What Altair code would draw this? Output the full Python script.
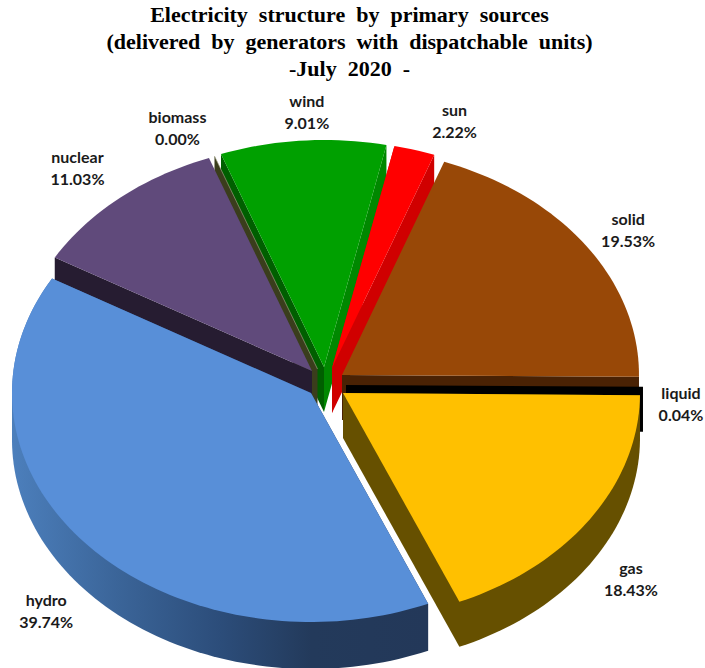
import math

import altair as alt
import pandas as pd

# Shares of electricity delivered, in percent, clockwise from the "solid" slice.
sources = ["solid", "liquid", "gas", "hydro", "nuclear", "biomass", "wind", "sun"]
shares = [19.53, 0.04, 18.43, 39.74, 11.03, 0.00, 9.01, 2.22]

title_lines = [
    "Electricity\u2002structure\u2002by\u2002primary\u2002sources",
    "(delivered\u2002by\u2002generators\u2002with\u2002dispatchable\u2002units)",
    "-July\u20022020\u2002-",
]

# Exploded pie layout: each slice has its own apex on the 705x668 canvas.
RX, RY, DEPTH, START = 297, 227, 45, 20.13
apex = {
    "solid": (342, 375), "liquid": (346, 385), "gas": (343, 393), "hydro": (311, 393),
    "nuclear": (312, 371), "biomass": (317.5, 369), "wind": (324, 367), "sun": (332, 368),
}
# The front slice sits a little closer to the viewer and so draws a little larger.
grow = {"hydro": 2}
top_color = {
    "solid": "#984807", "liquid": "#000000", "gas": "#ffc000", "hydro": "#588fd8",
    "nuclear": "#604a7b", "biomass": "#9c9c80", "wind": "#00a000", "sun": "#ff0000",
}
label_offset = {
    "solid": (42, -15), "liquid": (38, 18), "gas": (41, 61), "hydro": (-41, 67),
    "nuclear": (-43, -28), "biomass": (-37, -27), "wind": (4, -28), "sun": (40, -28),
}
LABEL_LINE = 22

# Angular extent of every slice, from the shares.
spans = {}
angle = START
for name, share in zip(sources, shares):
    spans[name] = (angle, angle + share * 3.6)
    angle += share * 3.6


def rim(name, theta):
    cx, cy = apex[name]
    rad = math.radians(theta)
    extra = grow.get(name, 0)
    return (cx + (RX + extra) * math.sin(rad), cy - (RY + extra) * math.cos(rad))


def sector(name):
    a, b = spans[name]
    steps = max(1, int((b - a) / 1.5))
    return [apex[name]] + [rim(name, a + (b - a) * i / steps) for i in range(steps + 1)]


def edge_face(name, theta):
    cx, cy = apex[name]
    ox, oy = rim(name, theta)
    return [(cx, cy), (ox, oy), (ox, oy + DEPTH), (cx, cy + DEPTH)]


def swept_hull(name):
    pts = sector(name)
    depth = DEPTH + grow.get(name, 0)
    pts = sorted(set(pts + [(x, y + depth) for x, y in pts]))

    def half(seq):
        out = []
        for p in seq:
            while len(out) > 1 and (
                (out[-1][0] - out[-2][0]) * (p[1] - out[-2][1])
                - (out[-1][1] - out[-2][1]) * (p[0] - out[-2][0])
            ) <= 0:
                out.pop()
            out.append(p)
        return out[:-1]

    return half(pts) + half(pts[::-1])


x_scale = alt.Scale(domain=[0, 705], range=[0, 705], nice=False, zero=False)
y_scale = alt.Scale(domain=[0, 668], range=[0, 668], nice=False, zero=False)


def polygon(points, fill):
    frame = pd.DataFrame(points, columns=["x", "y"]).reset_index(names="i")
    return alt.Chart(frame).mark_line(fill=fill, strokeWidth=0).encode(
        x=alt.X("x:Q", scale=x_scale, axis=None),
        y=alt.Y("y:Q", scale=y_scale, axis=None),
        order="i:Q",
    )


hydro_side = alt.Gradient(
    gradient="linear", x1=0, x2=1, y1=0, y2=0,
    stops=[
        alt.GradientStop(offset=0.0, color="#4c7fbc"),
        alt.GradientStop(offset=0.25, color="#3b6599"),
        alt.GradientStop(offset=0.5, color="#2c4d7a"),
        alt.GradientStop(offset=0.72, color="#233a5b"),
        alt.GradientStop(offset=1.0, color="#233859"),
    ],
)

# Side walls, back to front.
walls = [
    polygon(edge_face("wind", spans["wind"][0]), "#005f00"),
    polygon(edge_face("wind", spans["wind"][1]), "#008800"),
    polygon(edge_face("sun", spans["sun"][0]), "#d00000"),
    polygon(edge_face("sun", spans["sun"][1]), "#d00000"),
    polygon(edge_face("biomass", spans["biomass"][0]), "#3a3d1c"),
    polygon(edge_face("nuclear", spans["nuclear"][0]), "#261c31"),
    polygon(edge_face("solid", spans["solid"][1]), "#4a2204"),
    polygon(edge_face("liquid", spans["liquid"][0]), "#000000"),
    polygon(swept_hull("gas"), "#665000"),
    polygon(swept_hull("hydro"), hydro_side),
]

# Top faces.
tops = [
    polygon(sector(name), top_color[name])
    for name in ["sun", "wind", "nuclear", "solid", "gas", "hydro"]
]

biomass_line = pd.DataFrame(
    [apex["biomass"], rim("biomass", spans["biomass"][0])], columns=["x", "y"]
).reset_index(names="i")
biomass_top = alt.Chart(biomass_line).mark_line(
    stroke=top_color["biomass"], strokeWidth=0.7
).encode(
    x=alt.X("x:Q", scale=x_scale, axis=None),
    y=alt.Y("y:Q", scale=y_scale, axis=None),
    order="i:Q",
)

# Category and percentage labels, placed relative to the middle of each rim.
rows = []
for name, share in zip(sources, shares):
    a, b = spans[name]
    rx, ry = rim(name, (a + b) / 2)
    dx, dy = label_offset[name]
    rows.append(
        {"x": rx + dx, "y": ry + dy - LABEL_LINE / 2, "label": f"{name}\n{share:.2f}%"}
    )

labels = alt.Chart(pd.DataFrame(rows)).mark_text(
    font="Lato", fontWeight="bold", fontSize=16, lineBreak="\n", lineHeight=LABEL_LINE,
    color="#1a1a1a", align="center", baseline="middle",
).encode(
    x=alt.X("x:Q", scale=x_scale, axis=None),
    y=alt.Y("y:Q", scale=y_scale, axis=None),
    text="label:N",
)

chart = alt.layer(*walls, *tops, biomass_top, labels).properties(
    width=705,
    height=668,
    padding=0,
    autosize=alt.AutoSizeParams(type="none"),
    title=alt.TitleParams(
        text=title_lines, font="Liberation Serif", fontWeight="bold", fontSize=22,
        lineHeight=27, color="#000000", anchor="middle", baseline="top",
        frame="group", offset=0, dy=81, dx=-3,
    ),
    background="#ffffff",
).configure_view(stroke=None)

chart.save("out.html", embed_options={"renderer": "svg", "actions": False})
